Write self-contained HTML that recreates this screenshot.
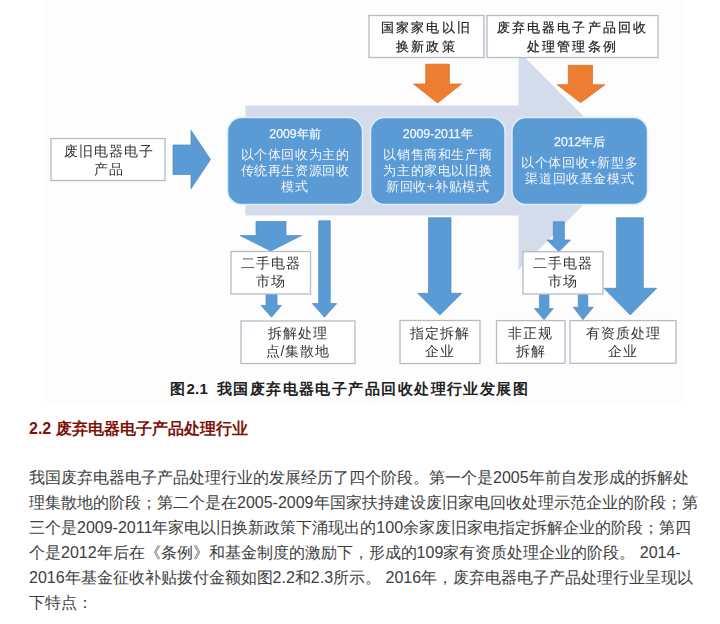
<!DOCTYPE html>
<html><head><meta charset="utf-8">
<style>
html,body{margin:0;padding:0;background:#fff;width:720px;height:624px;overflow:hidden;font-family:"Liberation Sans",sans-serif;}
#fig{position:absolute;left:44px;top:0;width:639px;height:405px;background:#fdfdfd;}
svg{position:absolute;left:0;top:0;}
#diag{position:absolute;left:0;top:0;width:720px;height:405px;filter:blur(0.35px);}
.t{position:absolute;text-align:center;white-space:nowrap;}
.bx{color:#333;font-size:14px;line-height:17.5px;letter-spacing:1px;}
.kai{color:#222;font-family:"Liberation Serif",serif;font-size:13px;line-height:18.5px;letter-spacing:2.2px;-webkit-text-stroke:0.2px #222;}
.wb{color:#f2f7fc;font-size:13px;line-height:16px;letter-spacing:0.6px;}
.wb b{font-weight:normal;display:block;margin-bottom:5px;font-size:12.3px;letter-spacing:0;line-height:16px;-webkit-text-stroke:0.25px #f2f7fc;}
#cap{position:absolute;left:170px;top:380px;font-size:15px;font-weight:bold;color:#222;letter-spacing:1.45px;white-space:nowrap;}
#h{position:absolute;left:29px;top:418.5px;font-size:16px;font-weight:bold;color:#7e1208;white-space:nowrap;line-height:20px;}
#p{position:absolute;left:29px;top:465px;width:670px;font-size:16px;line-height:25px;color:#3e3e3e;}
</style></head>
<body>
<div id="fig"></div>
<div id="diag">
<svg width="720" height="624" viewBox="0 0 720 624">
  <!-- big light process arrow -->
  <polygon points="245.5,105.5 518.5,105.5 518.5,51 627.5,160.5 518.5,270 518.5,215.5 245.5,215.5" fill="#d4dcec"/>
  <!-- left text box -->
  <rect x="51" y="138.5" width="114" height="42" fill="#fff" stroke="#b6bbc6" stroke-width="1.3"/>
  <!-- right-pointing blue arrow -->
  <polygon points="173,145 191,145 191,130.3 210.5,159.5 191,188.8 191,174.5 173,174.5" fill="#5b9bd5" stroke="#4f88c0" stroke-width="0.7"/>
  <!-- top boxes -->
  <rect x="369" y="15.5" width="115" height="42" fill="#fff" stroke="#b6bbc6" stroke-width="1.3"/>
  <rect x="487" y="15.5" width="171" height="42" fill="#fff" stroke="#b6bbc6" stroke-width="1.3"/>
  <!-- orange arrows -->
  <polygon points="425.7,64.2 449.4,64.2 449.4,84 461.5,84 437.5,103 413.5,84 425.7,84" fill="#ed7d31" stroke="#d86c28" stroke-width="0.7"/>
  <polygon points="568.3,65.3 592.5,65.3 592.5,84.7 605,84.7 580.6,102.8 557.2,84.7 568.3,84.7" fill="#ed7d31" stroke="#d86c28" stroke-width="0.7"/>
  <!-- rounded boxes -->
  <rect x="227.5" y="117.5" width="135" height="87" rx="14" fill="#5b9bd5" stroke="#dcecfa" stroke-width="1.5"/>
  <rect x="370.5" y="117.5" width="134.5" height="87" rx="14" fill="#5b9bd5" stroke="#dcecfa" stroke-width="1.5"/>
  <rect x="512" y="117.5" width="135.5" height="87" rx="14" fill="#5b9bd5" stroke="#dcecfa" stroke-width="1.5"/>
  <!-- lower arrows -->
  <polygon points="256,221.5 286,221.5 286,235.6 301.5,235.6 270.8,251 240,235.6 256,235.6" fill="#5b9bd5" stroke="#4f88c0" stroke-width="0.7"/>
  <polygon points="266,294 277,294 277,305.4 281.5,305.4 271.5,317.2 261,305.4 266,305.4" fill="#5b9bd5" stroke="#4f88c0" stroke-width="0.7"/>
  <polygon points="318.7,220.8 330.3,220.8 330.3,303.6 336.7,303.6 324.5,317.2 312.3,303.6 318.7,303.6" fill="#5b9bd5" stroke="#4f88c0" stroke-width="0.7"/>
  <polygon points="428.5,217.7 451,217.7 451,293.3 461.8,293.3 439.8,315.1 417.7,293.3 428.5,293.3" fill="#5b9bd5" stroke="#4f88c0" stroke-width="0.7"/>
  <polygon points="553.3,221.7 564.4,221.7 564.4,240 570.5,240 558.9,251.7 547,240 553.3,240" fill="#5b9bd5" stroke="#4f88c0" stroke-width="0.7"/>
  <polygon points="539.4,294.7 548.9,294.7 548.9,308.6 553.3,308.6 544,319.7 534.4,308.6 539.4,308.6" fill="#5b9bd5" stroke="#4f88c0" stroke-width="0.7"/>
  <polygon points="578.3,294.7 587.8,294.7 587.8,307.2 593.3,307.2 583,319.7 573.3,307.2 578.3,307.2" fill="#5b9bd5" stroke="#4f88c0" stroke-width="0.7"/>
  <polygon points="616.4,217.8 643.3,217.8 643.3,288.3 656.7,288.3 630.3,315 603.9,288.3 616.4,288.3" fill="#5b9bd5" stroke="#4f88c0" stroke-width="0.7"/>
  <!-- lower boxes -->
  <rect x="231" y="251.5" width="79.5" height="42.5" fill="#fff" stroke="#b6bbc6" stroke-width="1.3"/>
  <rect x="241" y="321" width="114" height="42.5" fill="#fff" stroke="#b6bbc6" stroke-width="1.3"/>
  <rect x="400" y="320.5" width="80" height="43" fill="#fff" stroke="#b6bbc6" stroke-width="1.3"/>
  <rect x="523" y="251.7" width="80" height="42.3" fill="#fff" stroke="#b6bbc6" stroke-width="1.3"/>
  <rect x="496.5" y="320.6" width="68.5" height="42.7" fill="#fff" stroke="#b6bbc6" stroke-width="1.3"/>
  <rect x="570" y="320.6" width="106" height="42.7" fill="#fff" stroke="#b6bbc6" stroke-width="1.3"/>
</svg>

<div class="t bx" style="left:51px;top:143px;width:115px;">废旧电器电子<br>产品</div>
<div class="t kai" style="left:369px;top:19px;width:115px;">国家家电以旧<br>换新政策</div>
<div class="t kai" style="left:487px;top:19px;width:171px;">废弃电器电子产品回收<br>处理管理条例</div>

<div class="t wb" style="left:227.5px;top:126px;width:135px;"><b>2009年前</b>以个体回收为主的<br>传统再生资源回收<br>模式</div>
<div class="t wb" style="left:370.5px;top:126px;width:134.5px;"><b>2009-2011年</b>以销售商和生产商<br>为主的家电以旧换<br>新回收+补贴模式</div>
<div class="t wb" style="left:512px;top:134px;width:135.5px;"><b>2012年后</b>以个体回收+新型多<br>渠道回收基金模式</div>

<div class="t bx" style="left:231px;top:255px;width:80px;">二手电器<br>市场</div>
<div class="t bx" style="left:241px;top:325px;width:114px;">拆解处理<br>点/集散地</div>
<div class="t bx" style="left:400px;top:325px;width:80px;">指定拆解<br>企业</div>
<div class="t bx" style="left:523px;top:255px;width:80px;">二手电器<br>市场</div>
<div class="t bx" style="left:496.5px;top:325px;width:68.5px;">非正规<br>拆解</div>
<div class="t bx" style="left:570px;top:325px;width:106px;">有资质处理<br>企业</div>

</div>
<div id="cap">图<span style="letter-spacing:0.3px">2.1</span><span style="display:inline-block;width:8.5px"></span>我国废弃电器电子产品回收处理行业发展图</div>

<div id="h">2.2 废弃电器电子产品处理行业</div>
<div id="p">我国废弃电器电子产品处理行业的发展经历了四个阶段。第一个是2005年前自发形成的拆解处理集散地的阶段；第二个是在2005-2009年国家扶持建设废旧家电回收处理示范企业的阶段；第三个是2009-2011年家电以旧换新政策下涌现出的100余家废旧家电指定拆解企业的阶段；第四个是2012年后在《条例》和基金制度的激励下，形成的109家有资质处理企业的阶段。 2014-2016年基金征收补贴拨付金额如图2.2和2.3所示。 2016年，废弃电器电子产品处理行业呈现以下特点：</div>
</body></html>
